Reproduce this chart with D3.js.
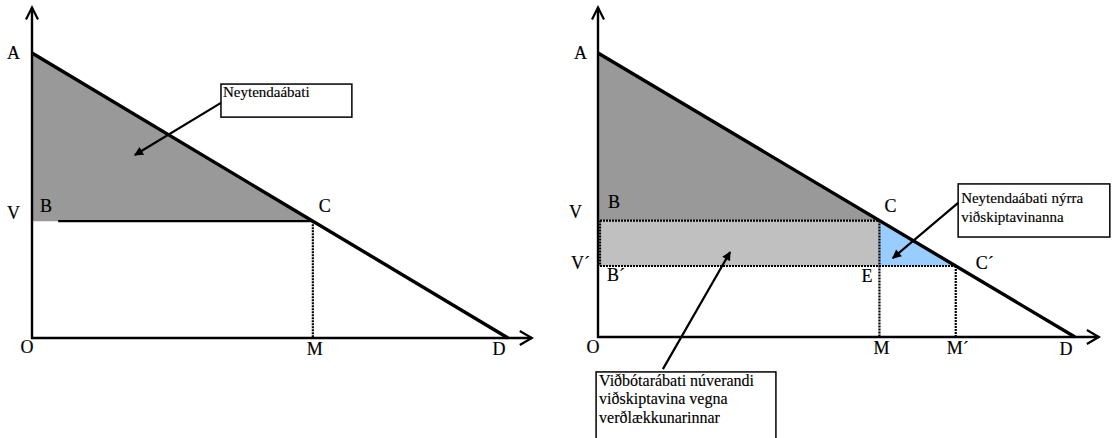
<!DOCTYPE html>
<html>
<head>
<meta charset="utf-8">
<script src="https://cdn.jsdelivr.net/npm/d3@7"></script>
<style>
html,body{margin:0;padding:0;background:#fff;}
text{font-family:"Liberation Serif","Times New Roman",serif;fill:#000;}
</style>
</head>
<body>
<svg id="chart" width="1112" height="438"></svg>
<script>
// ---- data (price axis 0..100, quantity axis 0..100, linear demand A -> D) ----
const priceLevels = [100, 41, 25];          // A, V, V´
const priceLabels = ["A", "V", "V´"];
const quantityLevels = [59, 75, 100];       // M, M´, D
const quantityLabels = ["M", "M´", "D"];
const demandLine = [[0, 100], [100, 0]];    // (quantity, price): A to D
const axisExtent = [105, 116];              // arrow ends (quantity, price)
const leftNote = ["Neytendaábati"];
const rightNoteTop = ["Neytendaábati nýrra", "viðskiptavinanna"];
const rightNoteBottom = ["Viðbótarábati núverandi", "viðskiptavina vegna", "verðlækkunarinnar"];

const svg = d3.select("#chart");
const defs = svg.append("defs");
defs.append("marker").attr("id", "ah").attr("viewBox", "0 0 10 10")
  .attr("refX", 9).attr("refY", 5).attr("markerWidth", 12).attr("markerHeight", 9)
  .attr("markerUnits", "userSpaceOnUse").attr("orient", "auto")
  .append("path").attr("d", "M0,0 L10,5 L0,10 Z").attr("fill", "#000");

const DOT = "2,1";

function panel(x0, x1, y0, y1) {
  const x = d3.scaleLinear().domain([0, 100]).range([x0, x1]);
  const y = d3.scaleLinear().domain([0, 100]).range([y0, y1]);
  return {x, y, g: svg.append("g")};
}
function demandQ(p) { // quantity on the demand line for price p
  const [[qa, pa], [qd, pd]] = demandLine;
  return qa + (p - pa) * (qd - qa) / (pd - pa);
}
function axes(P) {
  const {x, y, g} = P;
  g.append("line").attr("x1", x(0)).attr("x2", x(0)).attr("y1", y(0) + 1).attr("y2", y(axisExtent[1]))
    .attr("stroke", "#000").attr("stroke-width", 2.4);
  g.append("line").attr("x1", x(0) - 1).attr("x2", x(axisExtent[0])).attr("y1", y(0)).attr("y2", y(0))
    .attr("stroke", "#000").attr("stroke-width", 2.4);
  // open chevron arrowheads
  const tx = x(0), ty = y(axisExtent[1]);
  g.append("path").attr("d", `M${tx - 6},${ty + 12} L${tx},${ty} L${tx + 6},${ty + 12}`)
    .attr("fill", "none").attr("stroke", "#000").attr("stroke-width", 2.2);
  const rx = x(axisExtent[0]), ry = y(0);
  g.append("path").attr("d", `M${rx - 12},${ry - 7} L${rx},${ry} L${rx - 12},${ry + 7}`)
    .attr("fill", "none").attr("stroke", "#000").attr("stroke-width", 2.2);
}
function demand(P) {
  const {x, y, g} = P;
  g.append("path").attr("d", d3.line().x(d => x(d[0])).y(d => y(d[1]))(demandLine))
    .attr("fill", "none").attr("stroke", "#000").attr("stroke-width", 3.4);
}
function label(g, t, px, py, anchor) {
  g.append("text").attr("x", px).attr("y", py).attr("font-size", 18)
    .attr("stroke", "#000").attr("stroke-width", 0.2)
    .attr("text-anchor", anchor || "start").text(t);
}
function note(g, lines, bx0, by0, bx1, by1, tx, ty, fs, lh) {
  g.append("rect").attr("x", bx0).attr("y", by0).attr("width", bx1 - bx0).attr("height", by1 - by0)
    .attr("fill", "#fff").attr("stroke", "#000").attr("stroke-width", 1.5);
  lines.forEach((l, i) => g.append("text").attr("x", tx).attr("y", ty + i * lh).attr("font-size", fs)
    .attr("stroke", "#000").attr("stroke-width", 0.15).text(l));
}
function arrow(g, x1, y1, x2, y2) {
  g.append("line").attr("x1", x1).attr("y1", y1).attr("x2", x2).attr("y2", y2)
    .attr("stroke", "#000").attr("stroke-width", 2.2).attr("marker-end", "url(#ah)");
}

// ================= LEFT PANEL =================
{
  const P = panel(32, 508, 338, 53);
  const {x, y, g} = P;
  const pA = priceLevels[0], pV = priceLevels[1];
  const qM = quantityLevels[0];
  // consumer surplus triangle
  g.append("path").attr("d", d3.line().x(d => x(d[0])).y(d => y(d[1]))([[0, pA], [0, pV], [demandQ(pV), pV]]))
    .attr("fill", "#999999");
  // price line V-C (solid, starts just after B)
  g.append("line").attr("x1", x(5.5)).attr("x2", x(demandQ(pV))).attr("y1", y(pV)).attr("y2", y(pV))
    .attr("stroke", "#000").attr("stroke-width", 2.2);
  // dotted C-M
  g.append("line").attr("x1", x(qM)).attr("x2", x(qM)).attr("y1", y(pV)).attr("y2", y(0))
    .attr("stroke", "#000").attr("stroke-width", 2.2).attr("stroke-dasharray", DOT);
  axes(P);
  demand(P);
  label(g, "A", x(0) - 25, y(pA) + 6);
  label(g, "V", x(0) - 25, y(pV) - 2);
  label(g, "B", x(0) + 8, y(pV) - 9);
  label(g, "C", x(demandQ(pV)) + 6, y(pV) - 9);
  label(g, "O", x(0) - 5, y(0) + 15, "middle");
  label(g, "M", x(qM) + 2, y(0) + 17, "middle");
  label(g, "D", x(quantityLevels[2]) - 9, y(0) + 17, "middle");
  note(g, leftNote, x(39.7), y(89.1), x(67.2), y(77.5), x(39.7) + 2, y(89.1) + 13, 15, 18);
  arrow(g, x(39.7), y(82.5), x(21.6), y(64.2));
}

// ================= RIGHT PANEL =================
{
  const P = panel(598, 1075, 337, 53);
  const {x, y, g} = P;
  const pA = priceLevels[0], pV = priceLevels[1], pV2 = priceLevels[2];
  const qM = quantityLevels[0], qM2 = quantityLevels[1];
  const line = d3.line().x(d => x(d[0])).y(d => y(d[1]));
  g.append("path").attr("d", line([[0, pA], [0, pV], [demandQ(pV), pV]])).attr("fill", "#999999");
  // existing-customer gain rectangle
  g.append("rect").attr("x", x(0) + 1.5).attr("y", y(pV)).attr("width", x(qM) - x(0) - 1.5)
    .attr("height", y(pV2) - y(pV)).attr("fill", "#c0c0c0");
  // new-customer triangle
  g.append("path").attr("d", line([[qM, pV], [qM, pV2], [demandQ(pV2), pV2]])).attr("fill", "#99ccff");
  const dotted = (a, b, c, d) => g.append("line").attr("x1", a).attr("y1", b).attr("x2", c).attr("y2", d)
    .attr("stroke", "#000").attr("stroke-width", 2.2).attr("stroke-dasharray", DOT);
  dotted(x(0) + 2, y(pV), x(qM), y(pV));
  dotted(x(0) + 2, y(pV2), x(demandQ(pV2)), y(pV2));
  dotted(x(0) + 2, y(pV), x(0) + 2, y(pV2));
  dotted(x(qM), y(pV), x(qM), y(0));
  dotted(x(qM2), y(pV2), x(qM2), y(0));
  axes(P);
  demand(P);
  label(g, "A", x(0) - 24, y(pA) + 6);
  label(g, "V", x(0) - 29, y(pV) - 3);
  label(g, "B", x(0) + 10, y(pV) - 13);
  label(g, "C", x(demandQ(pV)) + 5, y(pV) - 9);
  label(g, "V´", x(0) - 27, y(pV2) + 3);
  label(g, "B´", x(0) + 9, y(pV2) + 15);
  label(g, "E", x(qM) - 18, y(pV2) + 16);
  label(g, "C´", x(demandQ(pV2)) + 20, y(pV2) + 3);
  label(g, "O", x(0) - 5, y(0) + 16, "middle");
  label(g, "M", x(qM) + 2, y(0) + 17, "middle");
  label(g, "M´", x(qM2) + 2, y(0) + 17, "middle");
  label(g, "D", x(quantityLevels[2]) - 9, y(0) + 18, "middle");
  note(g, rightNoteTop, x(75.5), y(53.9), x(107.3), y(35.2), x(75.5) + 3, y(53.9) + 19, 15, 19);
  arrow(g, x(75.5), y(47.2), x(61.8), y(27.8));
  note(g, rightNoteBottom, x(-0.4), y(-12.3), x(37.3), y(-38), x(-0.4) + 3, y(-12.3) + 14, 16, 18.5);
  arrow(g, x(13.6), y(-11.3), x(27.7), y(29.9));
}
</script>
</body>
</html>
